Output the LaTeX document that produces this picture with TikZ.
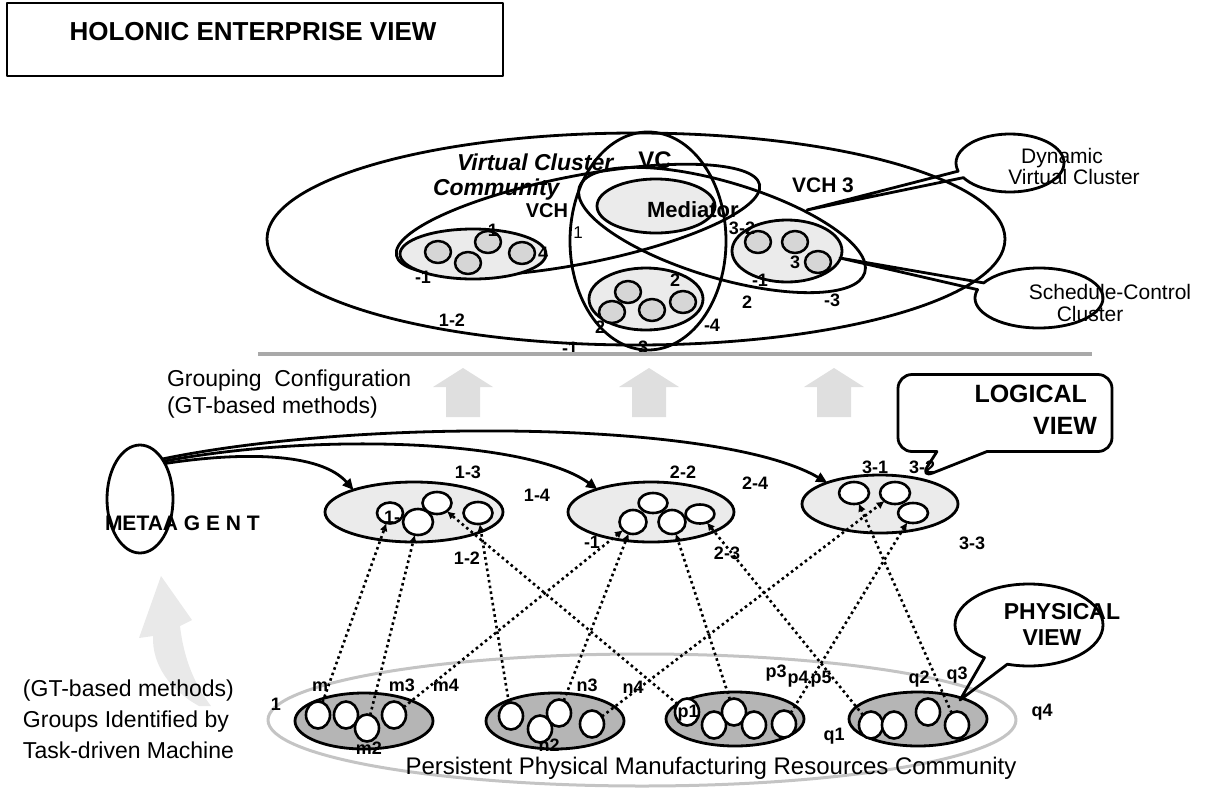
\documentclass[tikz,border=0pt]{standalone}
\usepackage{fontspec}
\setmainfont{Liberation Sans}
\usepackage{tikz}
\usetikzlibrary{positioning, calc}
\usetikzlibrary{shapes.geometric, shapes.callouts, arrows.meta}
\definecolor{lgfill}{HTML}{EBEBEB}
\definecolor{pgfill}{HTML}{B5B5B5}
\definecolor{tdfill}{HTML}{D6D6D6}
\definecolor{arrfill}{HTML}{DFDFDF}
\definecolor{curvefill}{HTML}{E9E9E9}
\definecolor{rulegray}{HTML}{A9A9A9}
\definecolor{commgray}{HTML}{C4C4C4}
\newcommand{\fsz}[1]{\fontsize{#1}{#1}\selectfont}

\begin{document}
\begin{tikzpicture}[x=1pt, y=-1pt, line join=round,
		every node/.style={inner sep=0pt, outer sep=0pt},
		thk/.style={line width=2.8pt},
		grp/.style={ellipse, draw, line width=2.8pt, fill=#1},
		sz/.style 2 args={minimum width=2*#1, minimum height=2*#2},
		tdot/.style={ellipse, draw, line width=2.5pt, fill=tdfill, minimum width=26, minimum height=22},
		wdot/.style={ellipse, draw, line width=2.6pt, fill=white, minimum width=29, minimum height=22},
		pdot/.style={ellipse, draw, line width=2.6pt, fill=white, minimum width=24, minimum height=27},
		fz/.style={font=\fsz{#1}, text height=0.72*#1, text depth=0pt},
		bfz/.style={font=\bfseries\fsz{#1}, text height=0.72*#1, text depth=0pt},
		lbl/.style={bfz=18},
		dotarr/.style={line width=2.6pt, dash pattern=on 2.6pt off 3.2pt, -{Latex[length=8pt,width=8pt]}},
		metaarr/.style={line width=2.8pt, -{Triangle[length=11pt,width=10pt]}},
	]
	\useasboundingbox (0,0) rectangle (1208,796);

	\node[draw, line width=1.4pt, minimum width=496, minimum height=73, anchor=north west] (titlebox) at (7,3) {};
	\node[bfz=26] (title) at (253,31) {HOLONIC ENTERPRISE VIEW};

	\draw[thk] (636,239) ellipse [x radius=369, y radius=106];
	\draw[thk] (648,241) ellipse [x radius=78, y radius=109];
	\draw[thk, rotate around={11:(578,220)}] (578,220) ellipse [x radius=185, y radius=44];
	\draw[thk, rotate around={-16.6:(722,230)}] (722,230) ellipse [x radius=149, y radius=48];

	\node[grp=lgfill, sz={59}{27}] (med) at (656,206) {};
	\node[grp=lgfill, sz={73}{25}] (tg1) at (473,254) {};
	\node[grp=lgfill, sz={57}{31}] (tg2) at (646,299) {};
	\node[grp=lgfill, sz={55}{31}] (tg3) at (787,251) {};
	\foreach \n/\x/\y in {a/438/252, b/488/242, c/468/263, d/522/253}
		\node[tdot] (t1\n) at (\x,\y) {};
	\foreach \n/\x/\y in {a/628/292, b/612/312, c/652/310, d/683/302}
		\node[tdot] (t2\n) at (\x,\y) {};
	\foreach \n/\x/\y in {a/758/242, b/795/242, c/818/262}
		\node[tdot] (t3\n) at (\x,\y) {};

	\node[ellipse callout, draw, thk, sz={54}{29}, callout absolute pointer={(807,210)},
		callout pointer arc=14] (dyncall) at (1010,163) {};
	\node[ellipse callout, draw, thk, sz={64}{30}, callout absolute pointer={(840,258)},
		callout pointer arc=14] (schedcall) at (1039,298) {};
	\node[fz=21] (dyn1) at (1062,156) {Dynamic};
	\node[fz=21] (dyn2) at (1074,177) {Virtual Cluster};
	\node[fz=21] (sched1) at (1110,292) {Schedule-Control};
	\node[fz=21] (sched2) at (1090,314) {Cluster};

	\node[bfz=23, font=\bfseries\itshape\fsz{23}, anchor=west] (vcc1) at (457,162) {Virtual Cluster};
	\node[bfz=23, font=\bfseries\itshape\fsz{23}, anchor=west] (vcc2) at (433,187) {Community};
	\node[bfz=24] (vc) at (655,160) {VC};
	\node[bfz=20] (vch1) at (547,210) {VCH};
	\node[bfz=22, anchor=west] (medtxt) at (647,210) {Mediator};
	\node[bfz=21] (vch3) at (823,185) {VCH 3};
	\foreach \t/\x/\y [count=\i] in {1/493/230, 4/543/253, -1/423/277, 1-2/452/320, 2/675/280,
			2/600/327, -4/712/325, -1/570/348, 3/643/347, 3-2/742/228, 3/795/262, -1/760/280,
			2/747/302, -3/832/300}
		\node[lbl] (tl\i) at (\x,\y) {\t};
	\node[fz=17] (tl0) at (578,232) {1};

	\draw[rulegray, line width=3.5pt] (258,354) -- (1092,354);
	\foreach \x in {463,649,834}
		\fill[arrfill] (\x-30,387) -- (\x,368) -- (\x+30,387) -- (\x+17,387) -- (\x+17,417)
			-- (\x-17,417) -- (\x-17,387) -- cycle;
	\node[fz=23, anchor=west] (grp1) at (167,378) {Grouping~~Configuration};
	\node[fz=23, anchor=west] (grp2) at (167,405) {(GT-based methods)};

	\fill[curvefill] (161,576) -- (192,620) -- (180,626) .. controls (184,660) and (195,685) .. (211,706)
		-- (199,706) .. controls (170,690) and (152,665) .. (153,636) -- (139,638) -- cycle;

	\node[ellipse, draw, thk, sz={33}{54}] (meta) at (140,499) {};
	\node[bfz=21, anchor=west] (metatxt) at (105,523) {METAA G E N T};

	\node[grp=lgfill, sz={89}{30}] (L1) at (414,512) {};
	\node[grp=lgfill, sz={83}{30}] (L2) at (651,512) {};
	\node[grp=lgfill, sz={78}{29}] (L3) at (880,504) {};
	\node[wdot, minimum width=26, minimum height=21] (la1) at (390,513) {};
	\node[wdot, minimum width=30, minimum height=26] (la2) at (418,522) {};
	\node[wdot] (la3) at (437,503) {};
	\node[wdot] (la4) at (478,513) {};
	\node[wdot, minimum height=20] (lb1) at (653,503) {};
	\node[wdot, minimum width=27, minimum height=24] (lb2) at (633,522) {};
	\node[wdot, minimum width=27, minimum height=24] (lb3) at (672,522) {};
	\node[wdot, minimum height=19] (lb4) at (700,514) {};
	\node[wdot, minimum width=30] (lc1) at (854,493) {};
	\node[wdot, minimum width=30] (lc2) at (895,493) {};
	\node[wdot, minimum width=30, minimum height=20] (lc3) at (913,513) {};

	\node[rectangle callout, draw, thk, rounded corners=14, minimum width=214, minimum height=77,
		callout absolute pointer={(920,478)}, callout pointer width=50] (logcall) at (1005,413) {};
	\node[bfz=25, anchor=east] (logtxt1) at (1087,393) {LOGICAL};
	\node[bfz=25, anchor=east] (logtxt2) at (1097,425) {VIEW};

	\draw[commgray, line width=3pt] (642,720) ellipse [x radius=374, y radius=66];
	\node[grp=pgfill, sz={69}{28}] (M) at (364,721) {};
	\node[grp=pgfill, sz={69}{28}] (N) at (555,721) {};
	\node[grp=pgfill, sz={69}{27}] (P) at (735,719) {};
	\node[grp=pgfill, sz={69}{27}] (Q) at (918,719) {};
	\foreach \n/\x/\y in {a/318/715, b/346/715, c/367/728, d/394/715}
		\node[pdot] (m\n) at (\x,\y) {};
	\foreach \n/\x/\y in {a/511/716, b/540/729, c/559/713, d/592/724}
		\node[pdot] (n\n) at (\x,\y) {};
	\foreach \n/\x/\y in {a/687/712, b/714/725, c/734/712, d/754/725, e/784/724}
		\node[pdot] (p\n) at (\x,\y) {};
	\foreach \n/\x/\y in {a/871/725, b/894/725, c/928/712, d/957/725}
		\node[pdot] (q\n) at (\x,\y) {};

	\node[ellipse callout, draw, thk, sz={74}{41}, callout absolute pointer={(960,700)},
		callout pointer arc=20] (physcall) at (1029,625) {};
	\node[bfz=23] (phystxt1) at (1062,611) {PHYSICAL};
	\node[bfz=23] (phystxt2) at (1052,637) {VIEW};

	\draw[dotarr] (ma) -- (la1);
	\draw[dotarr] (mc) -- (la2);
	\draw[dotarr] (md) -- (lb2);
	\draw[dotarr] (na) -- (la4);
	\draw[dotarr] (nc) -- (lb2);
	\draw[dotarr] (nd) -- (lc2);
	\draw[dotarr] (pa) -- (la3);
	\draw[dotarr] (pc) -- (lb3);
	\draw[dotarr] (pe) -- (lc3);
	\draw[dotarr] (qa) -- (lb4);
	\draw[dotarr] (qd) -- (lc1);

	\draw[metaarr] (meta.55) .. controls (240,452) and (320,452) .. (L1.160);
	\draw[metaarr] (meta.58) .. controls (320,432) and (530,440) .. (L2.157);
	\draw[metaarr] (meta.61) .. controls (360,418) and (720,420) .. (L3.158);

	\foreach \t/\x/\y [count=\i] in {1-3/468/472, 1-4/537/495, 1-2/467/558, 1-/392/517, -1/592/542,
			2-2/683/472, 2-4/755/483, 2-3/727/553, 3-1/875/467, 3-2/922/467, 3-3/972/543}
		\node[lbl] (ml\i) at (\x,\y) {\t};
	\foreach \t/\x/\y [count=\i] in {1/276/704, m/320/685, m3/402/685, m4/446/685, m2/369/748,
			n3/587/685, n4/633/687, n2/549/745, p1/688/711, p3/776/671, p4/798/677, p5/821/677,
			q1/834/734, q2/919/677, q3/957/673, q4/1042/710}
		\node[lbl] (pl\i) at (\x,\y) {\t};

	\node[fz=23, anchor=west] (gtl1) at (23,688) {(GT-based methods)};
	\node[fz=23, anchor=west] (gtl2) at (23,719) {Groups Identified by};
	\node[fz=23, anchor=west] (gtl3) at (23,750) {Task-driven Machine};
	\node[fz=24] (commtxt) at (711,766) {Persistent Physical Manufacturing Resources Community};
\end{tikzpicture}
\end{document}
